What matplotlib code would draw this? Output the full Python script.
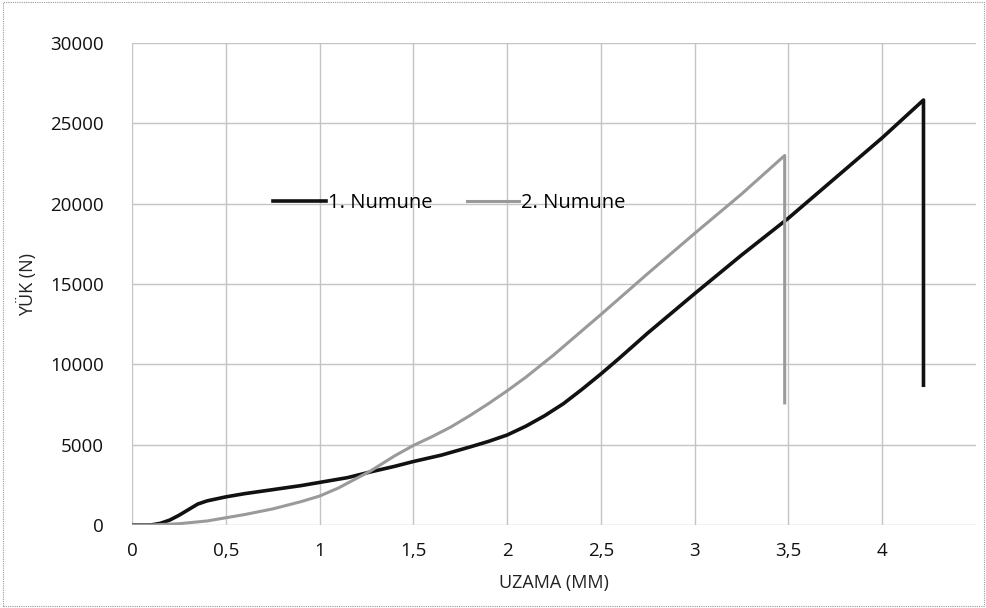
import matplotlib
matplotlib.use("Agg")
import matplotlib.pyplot as plt
from matplotlib.patches import Rectangle

# 1. Numune (black)
x1 = [0.0, 0.10, 0.15, 0.20, 0.25, 0.30, 0.35, 0.40, 0.50, 0.60, 0.75, 0.90, 1.00, 1.15, 1.27,
      1.40, 1.50, 1.65, 1.80, 1.90, 2.00, 2.10, 2.20, 2.30, 2.40, 2.50, 2.60, 2.75, 3.00, 3.25,
      3.50, 3.75, 4.00, 4.22, 4.22]
y1 = [0, 0, 100, 300, 600, 950, 1300, 1500, 1750, 1950, 2200, 2450, 2650, 2950, 3300,
      3650, 3950, 4350, 4850, 5200, 5600, 6150, 6800, 7550, 8450, 9400, 10400, 11950, 14400, 16800,
      19100, 21600, 24100, 26450, 8700]

# 2. Numune (gray)
x2 = [0.0, 0.10, 0.25, 0.40, 0.50, 0.60, 0.75, 0.90, 1.00, 1.10, 1.27, 1.40, 1.50, 1.60, 1.70,
      1.80, 1.90, 2.00, 2.10, 2.25, 2.50, 2.75, 3.00, 3.25, 3.48, 3.48]
y2 = [0, 0, 80, 250, 450, 650, 1000, 1450, 1800, 2300, 3350, 4300, 4950, 5500, 6100,
      6800, 7550, 8350, 9200, 10600, 13100, 15650, 18150, 20600, 23000, 7600]

xticks = [0, 0.5, 1, 1.5, 2, 2.5, 3, 3.5, 4]
xticklabels = ["0", "0,5", "1", "1,5", "2", "2,5", "3", "3,5", "4"]
yticks = [0, 5000, 10000, 15000, 20000, 25000, 30000]

plt.rcParams['font.family'] = ['Open Sans', 'DejaVu Sans']

fig = plt.figure(figsize=(9.87, 6.08), dpi=100)
ax = fig.add_axes([132/987, 83/608, (976-132)/987, (525-43)/608])

ax.plot(x1, y1, color='#111111', lw=2.6, label='1. Numune', solid_joinstyle='round')
ax.plot(x2, y2, color='#9a9a9a', lw=2.2, label='2. Numune', solid_joinstyle='round')

ax.set_xlim(0, 4.5)
ax.set_ylim(0, 30000)
ax.set_xticks(xticks)
ax.set_xticklabels(xticklabels)
ax.set_yticks(yticks)
ax.set_yticklabels([str(v) for v in yticks])
ax.grid(True, color='#c4c4c4', lw=1.0)
ax.set_axisbelow(True)
for s in ax.spines.values():
    s.set_visible(False)
ax.tick_params(axis='x', length=0, labelsize=13.5, pad=12, colors='#111111')
ax.tick_params(axis='y', length=0, labelsize=13.5, pad=20, colors='#111111')
ax.set_xlabel('UZAMA (MM)', fontsize=13, labelpad=10, color='#222222')
ax.set_ylabel('YÜK (N)', fontsize=13, labelpad=10, color='#222222')

leg = ax.legend(loc='center', bbox_to_anchor=(0.376, 0.668), ncol=2, frameon=False,
                fontsize=14.5, handlelength=2.6, handletextpad=0.1, columnspacing=1.7)

fig.patches.append(Rectangle((0.003, 0.003), 0.994, 0.994, transform=fig.transFigure,
                             fill=False, ec='#999999', lw=0.8, ls=(0, (1, 1))))

fig.savefig('out.png', dpi=100)
